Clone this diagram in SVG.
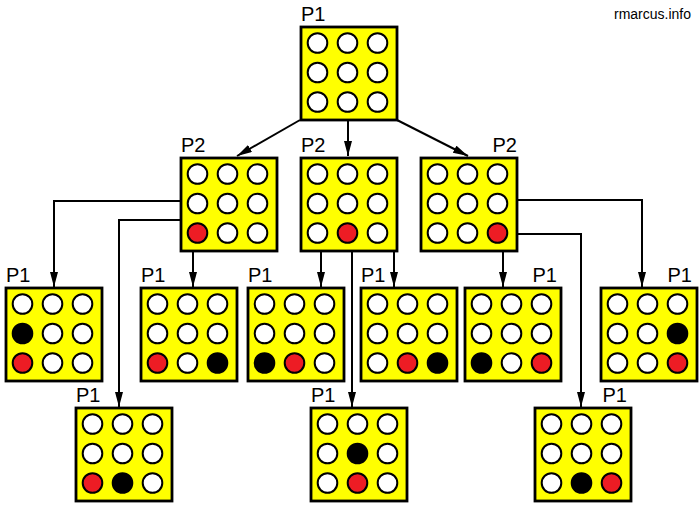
<svg xmlns="http://www.w3.org/2000/svg" width="700" height="511" viewBox="0 0 700 511">
<style>
.box{fill:#FFFF00;stroke:#000;stroke-width:2.8}
circle{stroke:#000;stroke-width:2;r:9.8}
.e{fill:#fff}.r{fill:#ED1C24}.k{fill:#000}
.lbl{font-family:"Liberation Sans",Arial,sans-serif;font-size:20px;fill:#000}
.end{text-anchor:end}
.wm{font-family:"Liberation Sans",Arial,sans-serif;font-size:14px;fill:#000;text-anchor:end}
.c{fill:none;stroke:#000;stroke-width:2}
</style>
<defs>
<marker id="ah" markerWidth="16" markerHeight="10" refX="15" refY="4" orient="auto" markerUnits="userSpaceOnUse">
<path d="M0,0 L15,4 L0,8 Z" fill="#000"/>
</marker>
<g id="grid">
<rect class="box" x="0" y="0" width="96" height="93"/>
</g>
</defs>
<rect width="700" height="511" fill="#fff"/>
<text class="wm" x="691" y="19">rmarcus.info</text>

<g id="connectors">
<path class="c" d="M300,120 L237,156" marker-end="url(#ah)"/>
<path class="c" d="M348,120 L348,156" marker-end="url(#ah)"/>
<path class="c" d="M397,120 L468,156" marker-end="url(#ah)"/>
<path class="c" d="M181,201 L54,201 L54,287" marker-end="url(#ah)"/>
<path class="c" d="M181,220 L119,220 L119,407" marker-end="url(#ah)"/>
<path class="c" d="M193,251 L193,287" marker-end="url(#ah)"/>
<path class="c" d="M321,251 L321,287" marker-end="url(#ah)"/>
<path class="c" d="M352,251 L352,407" marker-end="url(#ah)"/>
<path class="c" d="M394,251 L394,287" marker-end="url(#ah)"/>
<path class="c" d="M503,251 L503,287" marker-end="url(#ah)"/>
<path class="c" d="M517,200 L642,200 L642,287" marker-end="url(#ah)"/>
<path class="c" d="M517,234 L581,234 L581,407" marker-end="url(#ah)"/>
</g>

<g id="n-root" transform="translate(301,27)">
<text class="lbl" x="0" y="-6">P1</text>
<use href="#grid"/>
<circle class="e" cx="16.5" cy="16" r="9.8"/><circle class="e" cx="46.5" cy="16" r="9.8"/><circle class="e" cx="76.5" cy="16" r="9.8"/>
<circle class="e" cx="16.5" cy="45.5" r="9.8"/><circle class="e" cx="46.5" cy="45.5" r="9.8"/><circle class="e" cx="76.5" cy="45.5" r="9.8"/>
<circle class="e" cx="16.5" cy="75" r="9.8"/><circle class="e" cx="46.5" cy="75" r="9.8"/><circle class="e" cx="76.5" cy="75" r="9.8"/>
</g>

<g id="n-l2a" transform="translate(181,158)">
<text class="lbl" x="0" y="-6">P2</text>
<use href="#grid"/>
<circle class="e" cx="16.5" cy="16" r="9.8"/><circle class="e" cx="46.5" cy="16" r="9.8"/><circle class="e" cx="76.5" cy="16" r="9.8"/>
<circle class="e" cx="16.5" cy="45.5" r="9.8"/><circle class="e" cx="46.5" cy="45.5" r="9.8"/><circle class="e" cx="76.5" cy="45.5" r="9.8"/>
<circle class="r" cx="16.5" cy="75" r="9.8"/><circle class="e" cx="46.5" cy="75" r="9.8"/><circle class="e" cx="76.5" cy="75" r="9.8"/>
</g>

<g id="n-l2b" transform="translate(301,158)">
<text class="lbl" x="0" y="-6">P2</text>
<use href="#grid"/>
<circle class="e" cx="16.5" cy="16" r="9.8"/><circle class="e" cx="46.5" cy="16" r="9.8"/><circle class="e" cx="76.5" cy="16" r="9.8"/>
<circle class="e" cx="16.5" cy="45.5" r="9.8"/><circle class="e" cx="46.5" cy="45.5" r="9.8"/><circle class="e" cx="76.5" cy="45.5" r="9.8"/>
<circle class="e" cx="16.5" cy="75" r="9.8"/><circle class="r" cx="46.5" cy="75" r="9.8"/><circle class="e" cx="76.5" cy="75" r="9.8"/>
</g>

<g id="n-l2c" transform="translate(421,158)">
<text class="lbl end" x="96" y="-6">P2</text>
<use href="#grid"/>
<circle class="e" cx="16.5" cy="16" r="9.8"/><circle class="e" cx="46.5" cy="16" r="9.8"/><circle class="e" cx="76.5" cy="16" r="9.8"/>
<circle class="e" cx="16.5" cy="45.5" r="9.8"/><circle class="e" cx="46.5" cy="45.5" r="9.8"/><circle class="e" cx="76.5" cy="45.5" r="9.8"/>
<circle class="e" cx="16.5" cy="75" r="9.8"/><circle class="e" cx="46.5" cy="75" r="9.8"/><circle class="r" cx="76.5" cy="75" r="9.8"/>
</g>

<g id="n-l3a" transform="translate(6,288)">
<text class="lbl" x="0" y="-6">P1</text>
<use href="#grid"/>
<circle class="e" cx="16.5" cy="16" r="9.8"/><circle class="e" cx="46.5" cy="16" r="9.8"/><circle class="e" cx="76.5" cy="16" r="9.8"/>
<circle class="k" cx="16.5" cy="45.5" r="9.8"/><circle class="e" cx="46.5" cy="45.5" r="9.8"/><circle class="e" cx="76.5" cy="45.5" r="9.8"/>
<circle class="r" cx="16.5" cy="75" r="9.8"/><circle class="e" cx="46.5" cy="75" r="9.8"/><circle class="e" cx="76.5" cy="75" r="9.8"/>
</g>

<g id="n-l3b" transform="translate(141,288)">
<text class="lbl" x="0" y="-6">P1</text>
<use href="#grid"/>
<circle class="e" cx="16.5" cy="16" r="9.8"/><circle class="e" cx="46.5" cy="16" r="9.8"/><circle class="e" cx="76.5" cy="16" r="9.8"/>
<circle class="e" cx="16.5" cy="45.5" r="9.8"/><circle class="e" cx="46.5" cy="45.5" r="9.8"/><circle class="e" cx="76.5" cy="45.5" r="9.8"/>
<circle class="r" cx="16.5" cy="75" r="9.8"/><circle class="e" cx="46.5" cy="75" r="9.8"/><circle class="k" cx="76.5" cy="75" r="9.8"/>
</g>

<g id="n-l3c" transform="translate(248,288)">
<text class="lbl" x="0" y="-6">P1</text>
<use href="#grid"/>
<circle class="e" cx="16.5" cy="16" r="9.8"/><circle class="e" cx="46.5" cy="16" r="9.8"/><circle class="e" cx="76.5" cy="16" r="9.8"/>
<circle class="e" cx="16.5" cy="45.5" r="9.8"/><circle class="e" cx="46.5" cy="45.5" r="9.8"/><circle class="e" cx="76.5" cy="45.5" r="9.8"/>
<circle class="k" cx="16.5" cy="75" r="9.8"/><circle class="r" cx="46.5" cy="75" r="9.8"/><circle class="e" cx="76.5" cy="75" r="9.8"/>
</g>

<g id="n-l3d" transform="translate(361,288)">
<text class="lbl" x="0" y="-6">P1</text>
<use href="#grid"/>
<circle class="e" cx="16.5" cy="16" r="9.8"/><circle class="e" cx="46.5" cy="16" r="9.8"/><circle class="e" cx="76.5" cy="16" r="9.8"/>
<circle class="e" cx="16.5" cy="45.5" r="9.8"/><circle class="e" cx="46.5" cy="45.5" r="9.8"/><circle class="e" cx="76.5" cy="45.5" r="9.8"/>
<circle class="e" cx="16.5" cy="75" r="9.8"/><circle class="r" cx="46.5" cy="75" r="9.8"/><circle class="k" cx="76.5" cy="75" r="9.8"/>
</g>

<g id="n-l3e" transform="translate(465,288)">
<text class="lbl end" x="92" y="-6">P1</text>
<use href="#grid"/>
<circle class="e" cx="16.5" cy="16" r="9.8"/><circle class="e" cx="46.5" cy="16" r="9.8"/><circle class="e" cx="76.5" cy="16" r="9.8"/>
<circle class="e" cx="16.5" cy="45.5" r="9.8"/><circle class="e" cx="46.5" cy="45.5" r="9.8"/><circle class="e" cx="76.5" cy="45.5" r="9.8"/>
<circle class="k" cx="16.5" cy="75" r="9.8"/><circle class="e" cx="46.5" cy="75" r="9.8"/><circle class="r" cx="76.5" cy="75" r="9.8"/>
</g>

<g id="n-l3f" transform="translate(601,288)">
<text class="lbl end" x="91" y="-6">P1</text>
<use href="#grid"/>
<circle class="e" cx="16.5" cy="16" r="9.8"/><circle class="e" cx="46.5" cy="16" r="9.8"/><circle class="e" cx="76.5" cy="16" r="9.8"/>
<circle class="e" cx="16.5" cy="45.5" r="9.8"/><circle class="e" cx="46.5" cy="45.5" r="9.8"/><circle class="k" cx="76.5" cy="45.5" r="9.8"/>
<circle class="e" cx="16.5" cy="75" r="9.8"/><circle class="e" cx="46.5" cy="75" r="9.8"/><circle class="r" cx="76.5" cy="75" r="9.8"/>
</g>

<g id="n-l4a" transform="translate(76,408)">
<text class="lbl" x="0" y="-6">P1</text>
<use href="#grid"/>
<circle class="e" cx="16.5" cy="16" r="9.8"/><circle class="e" cx="46.5" cy="16" r="9.8"/><circle class="e" cx="76.5" cy="16" r="9.8"/>
<circle class="e" cx="16.5" cy="45.5" r="9.8"/><circle class="e" cx="46.5" cy="45.5" r="9.8"/><circle class="e" cx="76.5" cy="45.5" r="9.8"/>
<circle class="r" cx="16.5" cy="75" r="9.8"/><circle class="k" cx="46.5" cy="75" r="9.8"/><circle class="e" cx="76.5" cy="75" r="9.8"/>
</g>

<g id="n-l4b" transform="translate(311,408)">
<text class="lbl" x="0" y="-6">P1</text>
<use href="#grid"/>
<circle class="e" cx="16.5" cy="16" r="9.8"/><circle class="e" cx="46.5" cy="16" r="9.8"/><circle class="e" cx="76.5" cy="16" r="9.8"/>
<circle class="e" cx="16.5" cy="45.5" r="9.8"/><circle class="k" cx="46.5" cy="45.5" r="9.8"/><circle class="e" cx="76.5" cy="45.5" r="9.8"/>
<circle class="e" cx="16.5" cy="75" r="9.8"/><circle class="r" cx="46.5" cy="75" r="9.8"/><circle class="e" cx="76.5" cy="75" r="9.8"/>
</g>

<g id="n-l4c" transform="translate(535,408)">
<text class="lbl end" x="92" y="-6">P1</text>
<use href="#grid"/>
<circle class="e" cx="16.5" cy="16" r="9.8"/><circle class="e" cx="46.5" cy="16" r="9.8"/><circle class="e" cx="76.5" cy="16" r="9.8"/>
<circle class="e" cx="16.5" cy="45.5" r="9.8"/><circle class="e" cx="46.5" cy="45.5" r="9.8"/><circle class="e" cx="76.5" cy="45.5" r="9.8"/>
<circle class="e" cx="16.5" cy="75" r="9.8"/><circle class="k" cx="46.5" cy="75" r="9.8"/><circle class="r" cx="76.5" cy="75" r="9.8"/>
</g>
</svg>
